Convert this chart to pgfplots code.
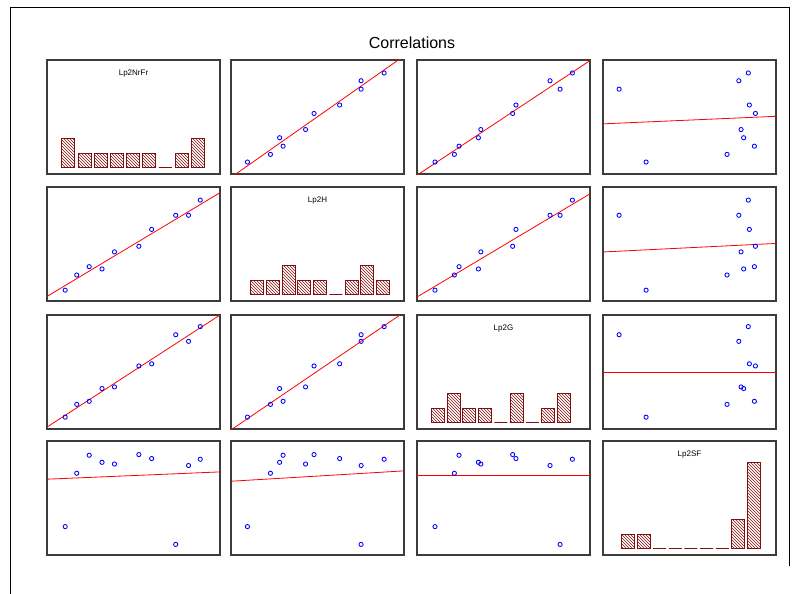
\documentclass[border=0pt]{standalone}
\usepackage{fontspec}
\setmainfont{Liberation Sans}
\usepackage{pgfplots}
\pgfplotsset{compat=1.18}
\usepackage{pgfplotstable}
\usetikzlibrary{patterns}
\definecolor{barred}{RGB}{128,16,16}
\definecolor{frame}{RGB}{60,60,60}

\pgfplotstableread{
A B C D
0.105 0.095 0.104 0.249
0.172 0.228 0.216 0.717
0.244 0.301 0.243 0.875
0.318 0.281 0.355 0.813
0.390 0.431 0.369 0.798
0.531 0.480 0.553 0.881
0.605 0.628 0.572 0.846
0.744 0.752 0.827 0.093
0.818 0.752 0.769 0.785
0.886 0.885 0.898 0.840
}\data

\pgfplotsset{
  panel/.style={scale only axis, width=173pt, height=114pt, anchor=north west,
    xmin=0, xmax=1, ymin=0, ymax=1, xtick=\empty, ytick=\empty,
    axis line style={draw=frame, line width=1.1pt}, clip=true},
  hist/.style={panel, ymin=-0.45, ymax=7.47},
}
\newcommand{\scatterpanel}[6]{%
\begin{axis}[panel, at={(#1pt,-#2pt)}]
\addplot[only marks, mark=o, mark options={blue, line width=0.85pt}, mark size=2.1pt] table[x=#3, y=#4] {\data};
\addplot[red, line width=0.8pt] coordinates {(0,#5) (1,#6)};
\end{axis}}
\tikzset{histbar/.style={ybar, bar width=13pt, draw=barred, line width=1pt, pattern=north west lines, pattern color=barred}}

\begin{document}
\begin{tikzpicture}
\path[use as bounding box] (0pt,0pt) rectangle (803pt,-594pt);
\draw[black, line width=1pt] (10pt,-594pt) -- (10pt,-8pt) -- (789pt,-8pt) -- (789pt,-566pt);
\node[font=\fontsize{16}{18}\selectfont] at (412pt,-43pt) {Correlations};

% row 1
\begin{axis}[hist, at={(47pt,-60pt)}, xmin=-1.315, xmax=9.365]
\addplot[histbar] coordinates {(0,2) (1,1) (2,1) (3,1) (4,1) (5,1) (6,0) (7,1) (8,2)};
\node[font=\fontsize{8}{9}\selectfont] at (rel axis cs:0.5,0.883) {Lp2NrFr};
\end{axis}
\scatterpanel{231}{60}{B}{A}{-0.03}{1.035}
\scatterpanel{417}{60}{C}{A}{-0.011}{0.995}
\scatterpanel{603}{60}{D}{A}{0.44}{0.506}

% row 2
\scatterpanel{47}{187}{A}{B}{0.04}{0.95}
\begin{axis}[hist, at={(231pt,-187pt)}, xmin=-1.65, xmax=9.33]
\addplot[histbar] coordinates {(0,1) (1,1) (2,2) (3,1) (4,1) (5,0) (6,1) (7,2) (8,1)};
\node[font=\fontsize{8}{9}\selectfont] at (rel axis cs:0.5,0.883) {Lp2H};
\end{axis}
\scatterpanel{417}{187}{C}{B}{0.035}{0.94}
\scatterpanel{603}{187}{D}{B}{0.43}{0.505}

% row 3
\scatterpanel{47}{315}{A}{C}{0.017}{1.0}
\scatterpanel{231}{315}{B}{C}{-0.008}{1.024}
\begin{axis}[hist, at={(417pt,-315pt)}, xmin=-1.33, xmax=9.65]
\addplot[histbar] coordinates {(0,1) (1,2) (2,1) (3,1) (4,0) (5,2) (6,0) (7,1) (8,2)};
\node[font=\fontsize{8}{9}\selectfont] at (rel axis cs:0.5,0.883) {Lp2G};
\end{axis}
\scatterpanel{603}{315}{D}{C}{0.496}{0.496}

% row 4
\scatterpanel{47}{441}{A}{D}{0.665}{0.729}
\scatterpanel{231}{441}{B}{D}{0.647}{0.738}
\scatterpanel{417}{441}{C}{D}{0.694}{0.694}
\begin{axis}[hist, at={(603pt,-441pt)}, xmin=-1.61, xmax=9.42]
\addplot[histbar] coordinates {(0,1) (1,1) (2,0) (3,0) (4,0) (5,0) (6,0) (7,2) (8,6)};
\node[font=\fontsize{8}{9}\selectfont] at (rel axis cs:0.5,0.883) {Lp2SF};
\end{axis}
\end{tikzpicture}
\end{document}
